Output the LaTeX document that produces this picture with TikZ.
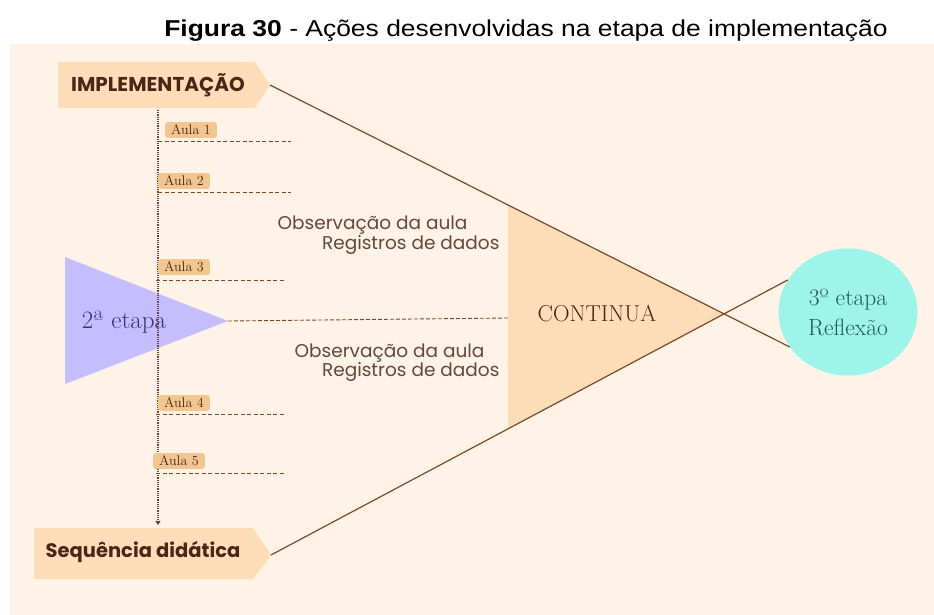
\documentclass[tikz,border=0pt]{standalone}
\usepackage{fontspec}
\usepackage{tikz}
\usetikzlibrary{arrows.meta,shapes.geometric}
\newfontfamily\titlefont{Liberation Sans}
\newfontfamily\geofont{Poppins}

\definecolor{panelbg}{HTML}{FEF3E6}
\definecolor{peach}{HTML}{FDDDB8}
\definecolor{aulafill}{HTML}{F3C690}
\definecolor{darkbrown}{HTML}{4A2618}
\definecolor{linebrown}{HTML}{7A4A25}
\definecolor{lilac}{HTML}{C4BEFF}
\definecolor{violet}{HTML}{3D2C84}
\definecolor{aqua}{HTML}{9DF5EA}
\definecolor{teal}{HTML}{1E5A52}

\tikzset{
  aulabox/.style={fill=aulafill, rounded corners=2.5pt, inner xsep=6pt, inner ysep=2.8pt,
    text=darkbrown, font=\fontsize{14}{15}\selectfont, anchor=west},
  aulaline/.style={dashed, dash pattern=on 4pt off 2.5pt, color=linebrown, line width=1pt},
  obstext/.style={text=darkbrown!85, font=\geofont\fontsize{18.5}{20}\selectfont, anchor=east},
  bigline/.style={line width=1.2pt, color=linebrown}
}

\begin{document}
\begin{tikzpicture}[x=1pt, y=-1pt]
			%%%%% START %%%%%
			\useasboundingbox (0, 0) rectangle (934, 615);
			\fill[white] (0, 0) rectangle (934, 615);
			\fill[panelbg] (10, 44) rectangle (934, 615);
			
			\node[xscale=1.15] (title) at (526, 31) {\titlefont\fontsize{23}{26}\selectfont\textbf{Figura 30} - Ações desenvolvidas na etapa de implementação};
			
			% label boxes
			\fill[peach] (58, 62) -- (255, 62) -- (270, 85) -- (255, 108) -- (58, 108) -- cycle;
			\node[text=darkbrown, font=\geofont\bfseries\fontsize{20}{22}\selectfont] (impl) at (158, 85) {IMPLEMENTAÇÃO};
			\coordinate (impltip) at (270, 85);
			
			\fill[peach] (34, 528) -- (253, 528) -- (271, 555) -- (253, 579) -- (34, 579) -- cycle;
			\node[text=darkbrown, font=\geofont\bfseries\fontsize{19.5}{21}\selectfont] (seq) at (143, 552) {Sequência didática};
			\coordinate (seqtip) at (271, 555);
			
			% continua triangle
			\fill[peach] (508, 205) -- (725, 314) -- (508, 429) -- cycle;
			\node[text=darkbrown, font=\fontsize{23}{26}\selectfont] (cont) at (597, 314) {CONTINUA};
			\coordinate (contleft) at (508, 318);
			
			% 2a etapa
			\fill[lilac] (65, 257) -- (228, 321) -- (65, 384) -- cycle;
			\node[text=violet, font=\fontsize{25}{28}\selectfont] (etapa2) at (124, 322) {2ª etapa};
			\coordinate (etapa2tip) at (228, 321);
			
			% 3o etapa
			\node[ellipse, fill=aqua, minimum width=139, minimum height=127, inner sep=0pt, align=center,
			  text=teal, font=\fontsize{23.5}{30}\selectfont] (reflexao) at (848, 312) {3º etapa\\Reflexão};
			
			\draw[bigline] (impltip) -- (reflexao.211);
			\draw[bigline] (seqtip) -- (reflexao.152);
			\draw[dashed, dash pattern=on 4pt off 2pt, color=linebrown, line width=0.9pt] (etapa2tip) -- (contleft);
			
			% aulas
			\coordinate (vtop) at (158, 110);
			\coordinate (vbot) at (158, 525);
			\draw[densely dotted, line width=1.2pt, color=darkbrown!85, -{Straight Barb[length=3pt, width=4pt]}] (vtop) -- (vbot);
			
			\node[aulabox] (aula1) at (165, 130) {Aula 1};
			\draw[aulaline] (158, 142) -- (291, 142);
			\node[aulabox] (aula2) at (158, 181) {Aula 2};
			\draw[aulaline] (158, 192) -- (291, 192);
			\node[aulabox] (aula3) at (158, 267) {Aula 3};
			\draw[aulaline] (156, 280) -- (286, 280);
			\node[aulabox] (aula4) at (158, 403) {Aula 4};
			\draw[aulaline] (156, 414) -- (286, 414);
			\node[aulabox] (aula5) at (153, 461) {Aula 5};
			\draw[aulaline] (156, 473) -- (286, 473);
			
			% observacoes
			\node[obstext] (obs1) at (471, 225) {Observação da aula};
			\node[obstext] (reg1) at (503, 245) {Registros de dados};
			\node[obstext] (obs2) at (488, 353) {Observação da aula};
			\node[obstext] (reg2) at (503, 372) {Registros de dados};
			%%%%% END %%%%%
\end{tikzpicture}
\end{document}
